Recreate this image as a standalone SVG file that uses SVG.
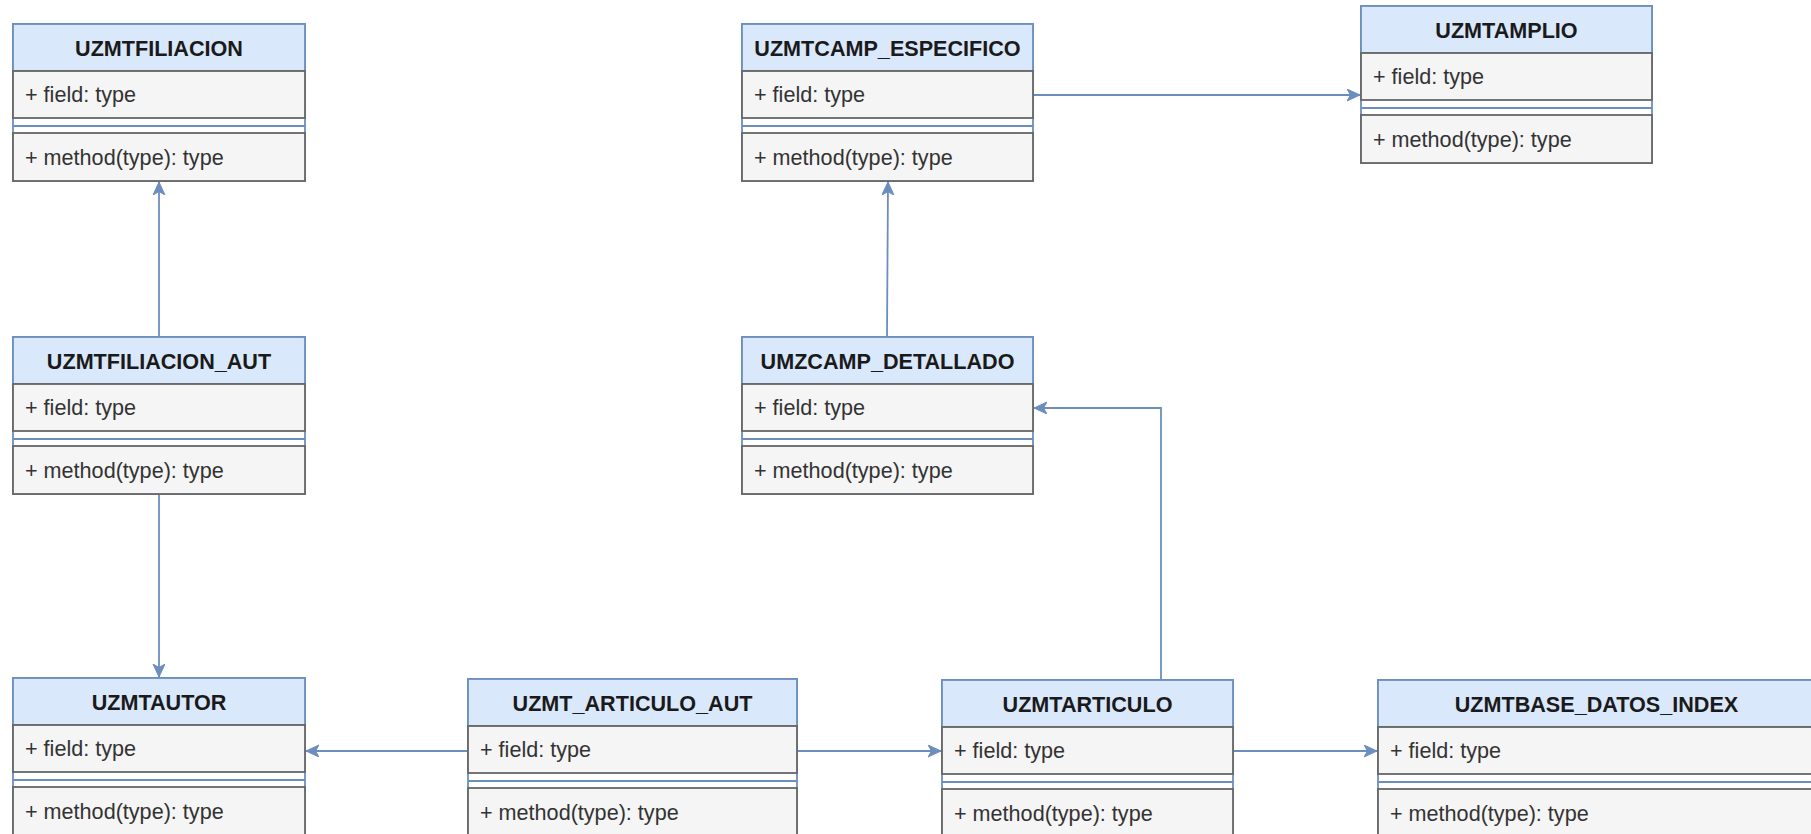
<svg xmlns="http://www.w3.org/2000/svg" width="1811" height="834" viewBox="0 0 1811 834">
<style>
.outer{fill:#ffffff;stroke:#6c8ebf;stroke-width:1.8}
.hdr{fill:#dae8fc;stroke:#6c8ebf;stroke-width:1.8}
.sec{fill:#f5f5f5;stroke:#666666;stroke-width:1.8}
.sep{stroke:#6c8ebf;stroke-width:1.8}
.title{font-family:"Liberation Sans",Arial,sans-serif;font-size:21.6px;font-weight:bold;fill:#1a1a1a;text-anchor:middle}
.txt{font-family:"Liberation Sans",Arial,sans-serif;font-size:21.6px;fill:#333333}
.conn{fill:none;stroke:#6c8ebf;stroke-width:1.8;marker-end:url(#arr)}
</style>
<defs>
<marker id="arr" markerUnits="userSpaceOnUse" markerWidth="14" markerHeight="14" refX="13" refY="6" orient="auto">
<path d="M0,0 L13,6 L0,12 L3.5,6 Z" fill="#6c8ebf" stroke="#6c8ebf" stroke-width="1"/>
</marker>
</defs>
<rect width="1811" height="834" fill="#ffffff"/>

<g id="connectors">
<path class="conn" d="M159,337 L159,182"/>
<path class="conn" d="M159,494 L159,677"/>
<path class="conn" d="M1033,95 L1360,95"/>
<path class="conn" d="M887,337 L888,182"/>
<path class="conn" d="M1161,680 L1161,408 L1034,408"/>
<path class="conn" d="M468,751 L306,751"/>
<path class="conn" d="M797,751 L941,751"/>
<path class="conn" d="M1233,751 L1377,751"/>
</g>

<g id="UZMTFILIACION" transform="translate(13,24)">
<rect class="outer" x="0" y="0" width="292" height="157"/>
<rect class="hdr" x="0" y="0" width="292" height="47"/>
<rect class="sec" x="0" y="47" width="292" height="47"/>
<line class="sep" x1="0" y1="102" x2="292" y2="102"/>
<rect class="sec" x="0" y="109" width="292" height="48"/>
<text class="title" x="146" y="31.5">UZMTFILIACION</text>
<text class="txt" x="12" y="78">+ field: type</text>
<text class="txt" x="12" y="141">+ method(type): type</text>
</g>

<g id="UZMTCAMP_ESPECIFICO" transform="translate(742,24)">
<rect class="outer" x="0" y="0" width="291" height="157"/>
<rect class="hdr" x="0" y="0" width="291" height="47"/>
<rect class="sec" x="0" y="47" width="291" height="47"/>
<line class="sep" x1="0" y1="102" x2="291" y2="102"/>
<rect class="sec" x="0" y="109" width="291" height="48"/>
<text class="title" x="145.5" y="31.5">UZMTCAMP_ESPECIFICO</text>
<text class="txt" x="12" y="78">+ field: type</text>
<text class="txt" x="12" y="141">+ method(type): type</text>
</g>

<g id="UZMTAMPLIO" transform="translate(1361,6)">
<rect class="outer" x="0" y="0" width="291" height="157"/>
<rect class="hdr" x="0" y="0" width="291" height="47"/>
<rect class="sec" x="0" y="47" width="291" height="47"/>
<line class="sep" x1="0" y1="102" x2="291" y2="102"/>
<rect class="sec" x="0" y="109" width="291" height="48"/>
<text class="title" x="145.5" y="31.5">UZMTAMPLIO</text>
<text class="txt" x="12" y="78">+ field: type</text>
<text class="txt" x="12" y="141">+ method(type): type</text>
</g>

<g id="UZMTFILIACION_AUT" transform="translate(13,337)">
<rect class="outer" x="0" y="0" width="292" height="157"/>
<rect class="hdr" x="0" y="0" width="292" height="47"/>
<rect class="sec" x="0" y="47" width="292" height="47"/>
<line class="sep" x1="0" y1="102" x2="292" y2="102"/>
<rect class="sec" x="0" y="109" width="292" height="48"/>
<text class="title" x="146" y="31.5">UZMTFILIACION_AUT</text>
<text class="txt" x="12" y="78">+ field: type</text>
<text class="txt" x="12" y="141">+ method(type): type</text>
</g>

<g id="UMZCAMP_DETALLADO" transform="translate(742,337)">
<rect class="outer" x="0" y="0" width="291" height="157"/>
<rect class="hdr" x="0" y="0" width="291" height="47"/>
<rect class="sec" x="0" y="47" width="291" height="47"/>
<line class="sep" x1="0" y1="102" x2="291" y2="102"/>
<rect class="sec" x="0" y="109" width="291" height="48"/>
<text class="title" x="145.5" y="31.5">UMZCAMP_DETALLADO</text>
<text class="txt" x="12" y="78">+ field: type</text>
<text class="txt" x="12" y="141">+ method(type): type</text>
</g>

<g id="UZMTAUTOR" transform="translate(13,678)">
<rect class="outer" x="0" y="0" width="292" height="157"/>
<rect class="hdr" x="0" y="0" width="292" height="47"/>
<rect class="sec" x="0" y="47" width="292" height="47"/>
<line class="sep" x1="0" y1="102" x2="292" y2="102"/>
<rect class="sec" x="0" y="109" width="292" height="48"/>
<text class="title" x="146" y="31.5">UZMTAUTOR</text>
<text class="txt" x="12" y="78">+ field: type</text>
<text class="txt" x="12" y="141">+ method(type): type</text>
</g>

<g id="UZMT_ARTICULO_AUT" transform="translate(468,679)">
<rect class="outer" x="0" y="0" width="329" height="157"/>
<rect class="hdr" x="0" y="0" width="329" height="47"/>
<rect class="sec" x="0" y="47" width="329" height="47"/>
<line class="sep" x1="0" y1="102" x2="329" y2="102"/>
<rect class="sec" x="0" y="109" width="329" height="48"/>
<text class="title" x="164.5" y="31.5">UZMT_ARTICULO_AUT</text>
<text class="txt" x="12" y="78">+ field: type</text>
<text class="txt" x="12" y="141">+ method(type): type</text>
</g>

<g id="UZMTARTICULO" transform="translate(942,680)">
<rect class="outer" x="0" y="0" width="291" height="157"/>
<rect class="hdr" x="0" y="0" width="291" height="47"/>
<rect class="sec" x="0" y="47" width="291" height="47"/>
<line class="sep" x1="0" y1="102" x2="291" y2="102"/>
<rect class="sec" x="0" y="109" width="291" height="48"/>
<text class="title" x="145.5" y="31.5">UZMTARTICULO</text>
<text class="txt" x="12" y="78">+ field: type</text>
<text class="txt" x="12" y="141">+ method(type): type</text>
</g>

<g id="UZMTBASE_DATOS_INDEX" transform="translate(1378,680)">
<rect class="outer" x="0" y="0" width="437" height="157"/>
<rect class="hdr" x="0" y="0" width="437" height="47"/>
<rect class="sec" x="0" y="47" width="437" height="47"/>
<line class="sep" x1="0" y1="102" x2="437" y2="102"/>
<rect class="sec" x="0" y="109" width="437" height="48"/>
<text class="title" x="218.5" y="31.5">UZMTBASE_DATOS_INDEX</text>
<text class="txt" x="12" y="78">+ field: type</text>
<text class="txt" x="12" y="141">+ method(type): type</text>
</g>
</svg>
